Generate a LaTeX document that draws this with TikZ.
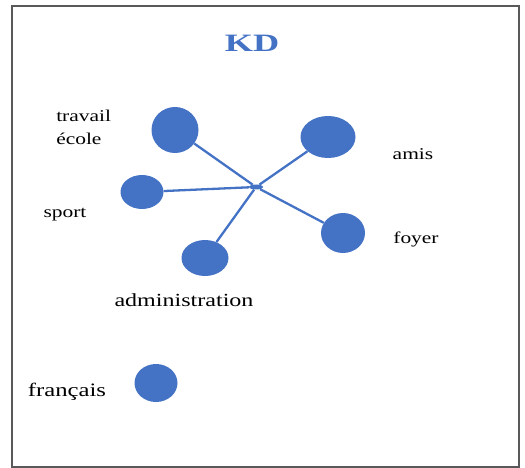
\documentclass[tikz,border=0pt]{standalone}
\usepackage{fontspec}
\setmainfont{Liberation Serif}
\usetikzlibrary{shapes.geometric}
\definecolor{kdblue}{HTML}{4472C4}
\begin{document}
\begin{tikzpicture}
[x=1pt,y=-1pt,
  nodedecorate/.style={shape=ellipse,inner sep=0pt,fill=kdblue},%
  linedecorate/.style={-,line width=2.3pt,draw=kdblue},%
  labeldecorate/.style={xscale=1.3,inner sep=0pt,anchor=base,font=\fontsize{16.5}{19}\selectfont}]
\useasboundingbox (0,0) rectangle (525,468);
\draw[line width=1.8pt,draw=black!65] (12,6) rectangle (519,467);
%% title
\node (kd) at (252,52) [anchor=base,inner sep=0pt,xscale=1.45,text=kdblue,
  font=\fontsize{25}{28}\selectfont\bfseries] {KD};
%% nodes or vertices
\node (hub) at (256,187) [nodedecorate,minimum width=14pt,minimum height=5pt] {};
\foreach \nodename/\x/\y/\w/\h in {travail/175/130/47/46, amis/328/137/55/42,
  sport/142/192/43/34, foyer/343/233/44/40, admin/205/258/47/36,
  francais/156/383/43/38} {
  \node (\nodename) at (\x,\y) [nodedecorate,minimum width=\w pt,minimum height=\h pt] {};
}
%% edges or lines
\path
\foreach \endnode in {travail, amis, sport, foyer, admin} {
  (hub) edge[linedecorate] (\endnode)
};
%% labels
\node (travaillabel) at (56,122) [labeldecorate,anchor=base west] {travail};
\node (ecolelabel) at (56,145) [labeldecorate,anchor=base west] {école};
\node (sportlabel) at (65,218) [labeldecorate] {sport};
\node (amislabel) at (413,160) [labeldecorate] {amis};
\node (foyerlabel) at (416,243) [labeldecorate] {foyer};
\node (adminlabel) at (184,306) [labeldecorate,font=\fontsize{18.5}{21}\selectfont] {administration};
\node (francaislabel) at (67,396) [labeldecorate,font=\fontsize{19}{22}\selectfont] {français};
\end{tikzpicture}
\end{document}
